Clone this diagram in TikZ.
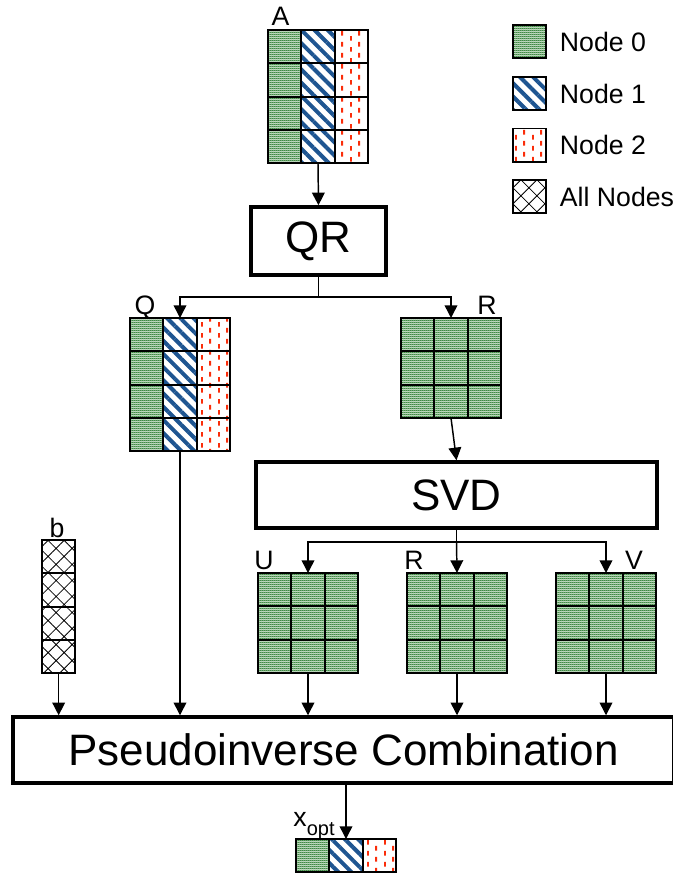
\documentclass[tikz,border=0pt]{standalone}
\usepackage{fontspec}
\setmainfont{Liberation Sans}
\usetikzlibrary{patterns,patterns.meta,calc,arrows.meta}

\definecolor{nodegreendark}{RGB}{25,100,30}
\definecolor{nodegreenlight}{RGB}{145,200,145}
\definecolor{nodeblue}{RGB}{30,85,145}
\definecolor{nodered}{RGB}{250,45,10}

% fine green checkerboard (Node 0)
\pgfdeclarepatterninherentlycolored{greenchecker}{\pgfpointorigin}{\pgfpoint{1.5pt}{1.5pt}}{\pgfpoint{1.5pt}{1.5pt}}{%
  \pgfsetfillcolor{nodegreenlight}%
  \pgfpathrectangle{\pgfpointorigin}{\pgfpoint{1.5pt}{1.5pt}}\pgfusepath{fill}%
  \pgfsetfillcolor{nodegreendark}%
  \pgfpathrectangle{\pgfpointorigin}{\pgfpoint{0.75pt}{0.75pt}}%
  \pgfpathrectangle{\pgfpoint{0.75pt}{0.75pt}}{\pgfpoint{0.75pt}{0.75pt}}%
  \pgfusepath{fill}}

% staggered red vertical dashes (Node 2)
\pgfdeclarepatterninherentlycolored{reddashes}{\pgfpointorigin}{\pgfpoint{12.4pt}{8.25pt}}{\pgfpoint{12.4pt}{8.25pt}}{%
  \pgfsetstrokecolor{nodered}\pgfsetlinewidth{1.4pt}%
  \pgfpathmoveto{\pgfpoint{3.1pt}{0.25pt}}\pgfpathlineto{\pgfpoint{3.1pt}{4pt}}%
  \pgfpathmoveto{\pgfpoint{9.3pt}{4.375pt}}\pgfpathlineto{\pgfpoint{9.3pt}{8.125pt}}%
  \pgfusepath{stroke}}

\tikzset{
  pzero/.style={pattern=greenchecker},
  pone/.style={pattern={Lines[angle=-45,distance=7pt,line width=3pt]}, pattern color=nodeblue},
  ptwo/.style={pattern=reddashes},
  pall/.style={pattern={Hatch[angle=45,distance=8.5pt,line width=0.6pt]}, pattern color=black},
  cellbox/.style={draw, line width=1.4pt, inner sep=0pt, outer sep=0pt},
  cellline/.style={line width=1.4pt},
  procbox/.style={draw, line width=2.6pt, inner sep=0pt, font=\fontsize{33}{33}\selectfont},
  lbl/.style={inner sep=0pt, font=\fontsize{20}{20}\selectfont},
  conn/.style={line width=1.1pt},
  arr/.style={conn, -{Triangle[width=9.5pt,length=9.5pt]}},
}

% one patterned column of a block: style, top-left coordinate, column index, rows
\newcommand\mxfill[4]{\fill[#1] ($(#2)+(#3*25pt,0pt)$) rectangle ++(25pt,-#4*25pt);}

% named frame and cell lines of a block: name, top-left coordinate, columns, rows
\newcommand\mxframe[4]{%
  \node[cellbox, minimum width=#3*25pt, minimum height=#4*25pt, anchor=north west] (#1) at (#2) {};
  \foreach \ci in {1,...,#3} {\draw[cellline] ($(#2)+(\ci*25pt,0pt)$) -- ++(0pt,-#4*25pt);}
  \foreach \ri in {1,...,#4} {\draw[cellline] ($(#2)+(0pt,-\ri*25pt)$) -- ++(#3*25pt,0pt);}
}

\begin{document}
\begin{tikzpicture}[x=0.75pt,y=-0.75pt]
\useasboundingbox (0,0) rectangle (672,877);

% block corners
\coordinate (Atl) at (268,30);
\coordinate (Qtl) at (130,318);
\coordinate (Rtl) at (401,318);
\coordinate (Utl) at (258,573);
\coordinate (Stl) at (407,573);
\coordinate (Vtl) at (556,573);
\coordinate (btl) at (42,540);
\coordinate (Xtl) at (296,839);
\coordinate (L0tl) at (513,25);
\coordinate (L1tl) at (513,77);
\coordinate (L2tl) at (513,128.5);
\coordinate (L3tl) at (513,180);

% column fills
\mxfill{pzero}{Atl}{0}{4} \mxfill{pone}{Atl}{1}{4} \mxfill{ptwo}{Atl}{2}{4}
\mxfill{pzero}{Qtl}{0}{4} \mxfill{pone}{Qtl}{1}{4} \mxfill{ptwo}{Qtl}{2}{4}
\mxfill{pzero}{Xtl}{0}{1} \mxfill{pone}{Xtl}{1}{1} \mxfill{ptwo}{Xtl}{2}{1}
\foreach \c in {0,1,2}{
  \mxfill{pzero}{Rtl}{\c}{3}
  \mxfill{pzero}{Utl}{\c}{3}
  \mxfill{pzero}{Stl}{\c}{3}
  \mxfill{pzero}{Vtl}{\c}{3}
}
\mxfill{pall}{btl}{0}{4}
\mxfill{pzero}{L0tl}{0}{1}
\mxfill{pone}{L1tl}{0}{1}
\mxfill{ptwo}{L2tl}{0}{1}
\mxfill{pall}{L3tl}{0}{1}

% block frames
\mxframe{A}{Atl}{3}{4}
\mxframe{Q}{Qtl}{3}{4}
\mxframe{R}{Rtl}{3}{3}
\mxframe{U}{Utl}{3}{3}
\mxframe{S}{Stl}{3}{3}
\mxframe{V}{Vtl}{3}{3}
\mxframe{b}{btl}{1}{4}
\mxframe{X}{Xtl}{3}{1}
\mxframe{L0}{L0tl}{1}{1}
\mxframe{L1}{L1tl}{1}{1}
\mxframe{L2}{L2tl}{1}{1}
\mxframe{L3}{L3tl}{1}{1}

% block labels
\node[lbl, anchor=base] (Alab) at (280.5,26) {A};
\node[lbl, anchor=base] (Qlab) at (145,314) {Q};
\node[lbl, anchor=base] (Rlab) at (487,314) {R};
\node[lbl, anchor=base] (Ulab) at (264,569) {U};
\node[lbl, anchor=base] (Slab) at (414,569) {R};
\node[lbl, anchor=base] (Vlab) at (634,569) {V};
\node[lbl, anchor=base] (blab) at (57,537) {b};
\node[lbl, anchor=base] (Xlab) at (314,826) {x\raisebox{-0.35em}{\fontsize{15}{15}\selectfont opt}};

% legend
\node[lbl, anchor=west] (T0) at ($(L0.east)+(10pt,0pt)$) {Node 0};
\node[lbl, anchor=west] (T1) at ($(L1.east)+(10pt,0pt)$) {Node 1};
\node[lbl, anchor=west] (T2) at ($(L2.east)+(10pt,0pt)$) {Node 2};
\node[lbl, anchor=west] (T3) at ($(L3.east)+(10pt,0pt)$) {All Nodes};

% processing steps
\node[procbox, minimum width=101.25pt, minimum height=51pt] (QR) at (318.5,241) {QR};
\node[procbox, minimum width=300.75pt, minimum height=49.5pt] (SVD) at (456.5,495) {SVD};
\node[procbox, minimum width=495.75pt, minimum height=49.5pt] (PC) at (343.5,750) {Pseudoinverse Combination};

% connectors
\coordinate (qrsplit) at (318.5,297);
\coordinate (svdsplit) at (456.5,542);
\draw[arr] (A.south) -- (QR.north);
\draw[conn] (QR.south) -- (qrsplit);
\draw[arr] (qrsplit) -| (Q.north);
\draw[arr] (qrsplit) -| (R.north);
\draw[arr] (R.south) -- (SVD.north);
\draw[conn] (SVD.south) -- (svdsplit);
\draw[arr] (svdsplit) -| (U.north);
\draw[arr] (svdsplit) -- (S.north);
\draw[arr] (svdsplit) -| (V.north);
\draw[arr] (b.south) -- (b.south |- PC.north);
\draw[arr] (Q.south) -- (Q.south |- PC.north);
\draw[arr] (U.south) -- (U.south |- PC.north);
\draw[arr] (S.south) -- (S.south |- PC.north);
\draw[arr] (V.south) -- (V.south |- PC.north);
\draw[arr] (PC.south -| X.north) -- (X.north);
\end{tikzpicture}
\end{document}
